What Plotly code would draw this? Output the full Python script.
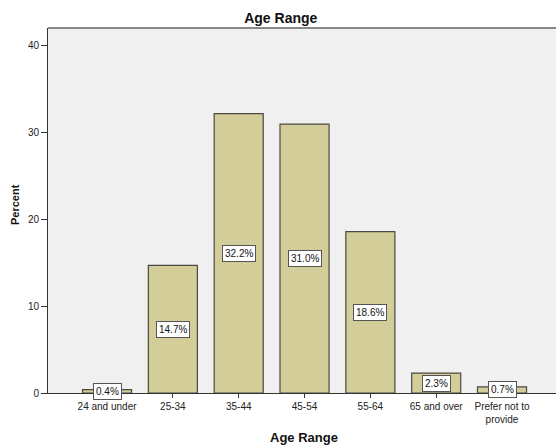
import plotly.graph_objects as go

categories = ["24 and under", "25-34", "35-44", "45-54", "55-64", "65 and over", "Prefer not to<br>provide"]
percents = [0.4, 14.7, 32.2, 31.0, 18.6, 2.3, 0.7]
y_ticks = [0, 10, 20, 30, 40]

x_idx = list(range(len(categories)))

L, R, T, B = 48, 0, 28, 52
W, H = 556, 445
pw, ph = W - L - R, H - T - B
FONT = "Liberation Sans, Arial"

fig = go.Figure()
fig.add_trace(go.Bar(
    x=x_idx, y=percents, width=0.745,
    marker=dict(color="#d3cd99", line=dict(color="#4a4a40", width=1.2)),
    hoverinfo="skip",
))

for i, v in zip(x_idx, percents):
    fig.add_annotation(
        x=i, y=v / 2, text=f"{v:.1f}%", showarrow=False,
        font=dict(family=FONT, size=10, color="#111"),
        bgcolor="white", bordercolor="#555", borderwidth=1, borderpad=2,
    )

fig.add_shape(type="line", xref="paper", yref="paper", x0=0, x1=1, y0=1, y1=1,
              line=dict(color="#888", width=2))

# axis titles
fig.add_annotation(xref="paper", yref="paper", x=(304 - L) / pw, y=(H - B - 437) / ph,
                   text="<b>Age Range</b>", showarrow=False, xanchor="center", yanchor="middle",
                   font=dict(family=FONT, size=13, color="#111"))
fig.add_annotation(xref="paper", yref="paper", x=(15 - L) / pw, y=(H - B - 205) / ph,
                   text="<b>Percent</b>", showarrow=False, textangle=-90,
                   xanchor="center", yanchor="middle",
                   font=dict(family=FONT, size=11, color="#111"))

fig.update_layout(
    width=W, height=H,
    margin=dict(l=L, r=R, t=T, b=B, autoexpand=False),
    paper_bgcolor="white", plot_bgcolor="#f0f0f0",
    showlegend=False,
    font=dict(family=FONT, size=10, color="#222"),
    title=dict(text="<b>Age Range</b>", x=0.505, xanchor="center",
               y=1 - 18 / H, yanchor="middle",
               font=dict(size=14, color="#111")),
    xaxis=dict(
        tickmode="array", tickvals=x_idx, ticktext=categories,
        range=[-0.897, 6.82], showgrid=False, zeroline=False, automargin=False,
        showline=True, linecolor="#333", linewidth=1,
        ticks="outside", ticklen=4, tickcolor="#333",
        tickfont=dict(size=10, color="#222"),
    ),
    yaxis=dict(
        tickmode="array", tickvals=y_ticks, range=[0, 42.07],
        showgrid=False, zeroline=False, automargin=False,
        showline=True, linecolor="#333", linewidth=1,
        ticks="outside", ticklen=6, tickcolor="#333",
        tickfont=dict(size=10, color="#222"),
    ),
)

fig.write_html("out.html", config={"displayModeBar": False},
               post_script="document.body.style.margin='0';document.body.style.overflow='hidden';")
